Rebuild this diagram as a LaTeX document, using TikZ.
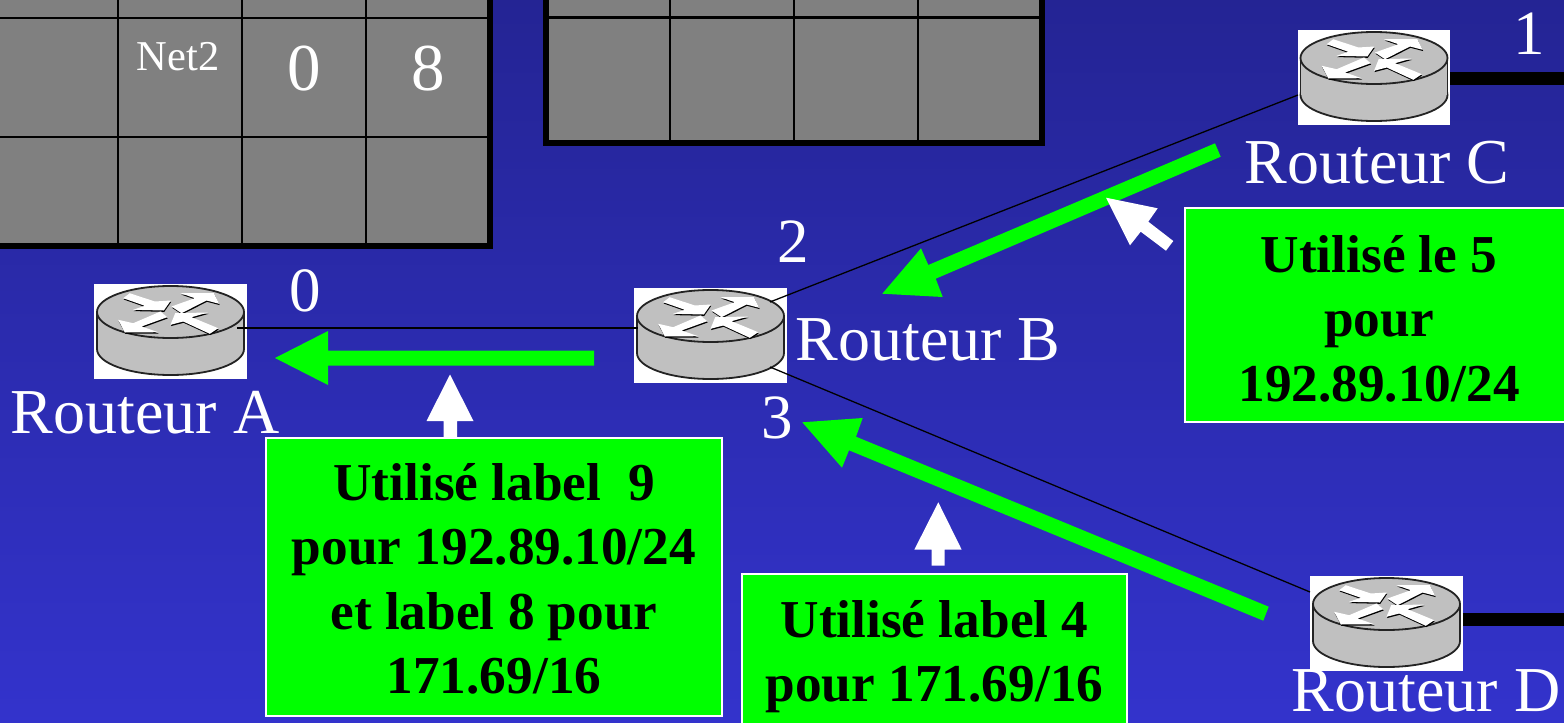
\documentclass[tikz,border=0pt]{standalone}
\usepackage{fontspec}
\setmainfont{Liberation Serif}
\usetikzlibrary{calc}
\definecolor{bgtop}{RGB}{36,36,148}
\definecolor{bgbot}{RGB}{51,51,204}
\definecolor{cellgray}{RGB}{128,128,128}
\definecolor{routergray}{RGB}{192,192,192}
\definecolor{routeredge}{RGB}{35,35,35}
\definecolor{brightgreen}{RGB}{0,255,0}
\tikzset{
  routernode/.style={fill=white,draw=none,inner sep=0pt,minimum width=152.5pt,minimum height=95pt},
  routerarrow/.style={fill=white},
  routershade/.style={fill=black,shift={(0.5,1.3)}},
  tablebox/.style={fill=cellgray,draw=black,line width=5.6pt},
  tableline/.style={draw=black,line width=2.2pt},
  link/.style={draw=black,line width=1.3pt},
  trunk/.style={draw=black,line width=13pt},
  greenarrow/.style={fill=brightgreen},
  whitearrow/.style={fill=white},
  greenbox/.style={fill=brightgreen,draw=white,line width=2pt,inner sep=0pt,align=center,
    font=\fontsize{53.3}{64.5}\selectfont\bfseries,text=black},
  routerlabel/.style={text=white,anchor=base,inner sep=0pt,font=\fontsize{64}{70}\selectfont},
  portlabel/.style={text=white,anchor=base,inner sep=0pt,font=\fontsize{63}{70}\selectfont},
  celllarge/.style={text=white,anchor=base,inner sep=0pt,font=\fontsize{67}{70}\selectfont},
  cellsmall/.style={text=white,anchor=base,inner sep=0pt,font=\fontsize{42.5}{45}\selectfont},
  routericon/.pic={
    \path[fill=routergray,draw=routeredge,line width=1.8pt] (0,17.5) ellipse [x radius=73.5pt,y radius=26pt];
    \fill[routergray] (-73.5,-19.5) rectangle (73.5,17.5);
    \draw[routeredge,line width=1.8pt] (-73.5,-19.5) -- (-73.5,17.5) (73.5,-19.5) -- (73.5,17.5);
    \path[fill=routergray,draw=routeredge,line width=1.8pt] (0,-19.5) ellipse [x radius=73.5pt,y radius=26pt];
    \foreach \layer in {routershade,routerarrow}{
      \fill[\layer] (-40.7,-38.3) -- (-15.7,-30) -- (0.3,-31) -- (-6.7,-21) -- (-37.3,-21.7) -- (-25.7,-25.7) -- (-47.3,-33.3) -- cycle;
      \fill[\layer] (1,-25) -- (24.3,-33.3) -- (10,-38.3) -- (43.3,-38.3) -- (48.7,-27.7) -- (36,-31) -- (11,-18.3) -- cycle;
      \fill[\layer] (-10,-20) -- (-3.3,-14.3) -- (-29,-5) -- (-12.3,0.7) -- (-45.7,1) -- (-52.3,-11.7) -- (-37.3,-8.3) -- cycle;
      \fill[\layer] (0,-6.7) -- (4.7,-18.3) -- (37.7,-19) -- (21,-14.3) -- (47.7,-3.3) -- (39.3,2.3) -- (12.7,-10) -- cycle;
    }
  }
}
\begin{document}
\begin{tikzpicture}[x=1pt,y=-1pt]
\useasboundingbox (0,0) rectangle (1564,723);
\clip (0,0) rectangle (1564,723);
\shade[top color=bgtop,bottom color=bgbot] (0,0) rectangle (1564,723);

% tables
\path[tablebox] (-10,-10) rectangle (490,246);
\draw[tableline] (117.7,-10) -- (117.7,243.5) (242,-10) -- (242,243.5) (366,-10) -- (366,243.5)
  (-10,18.3) -- (487.5,18.3) (-10,136.7) -- (487.5,136.7);
\path[tablebox] (545.7,-10) rectangle (1042,143);
\draw[tableline] (669.6,-10) -- (669.6,140.5) (794,-10) -- (794,140.5) (918,-10) -- (918,140.5)
  (548,17.5) -- (1039.5,17.5);
\node[cellsmall] (net) at (178,70) {Net2};
\node[celllarge] (cellzero) at (304,90) {0};
\node[celllarge] (celleight) at (428,90) {8};

% routers
\node[routernode] (ra) at (170.5,331.5) {};
\node[routernode] (rb) at (710.5,335.5) {};
\node[routernode] (rc) at (1374,77.5) {};
\node[routernode] (rd) at (1386.5,623.5) {};
\pic at (ra.center) {routericon};
\pic at (rb.center) {routericon};
\pic at (rc.center) {routericon};
\pic at (rd.center) {routericon};

% connectors
\coordinate (ae) at ($(ra.center)+(66.5,-3.5)$);
\coordinate (bw) at ($(rb.center)+(-72.5,-7.5)$);
\coordinate (bne) at ($(rb.center)+(59.5,-33.5)$);
\coordinate (bse) at ($(rb.center)+(59.5,31.5)$);
\coordinate (cw) at ($(rc.center)+(-76,17.5)$);
\coordinate (dw) at ($(rd.center)+(-76.5,-31.5)$);
\coordinate (ce) at (1564,78);
\coordinate (de) at (1564,619);
\draw[link] (ae) -- (bw);
\draw[link] (bne) -- (cw);
\draw[link] (bse) -- (dw);
\draw[trunk] (rc.east |- ce) -- (ce);
\draw[trunk] (rd.east |- de) -- (de);

% green arrows
\fill[greenarrow] (275,358) -- (328,331) -- (328,350.5) -- (594,350.5) -- (594,365.5) -- (328,365.5) -- (328,385) -- cycle;
\fill[greenarrow] (882.3,293.7) -- (921,248.3) -- (928.3,265) -- (1215,143.3) -- (1220.7,156.7) -- (935.7,278.7) -- (942.7,297) -- cycle;
\fill[greenarrow] (802.3,422.3) -- (862.7,418) -- (856,436.7) -- (1268.7,606.7) -- (1263.3,620.7) -- (849,450.3) -- (842,467.7) -- cycle;

% white arrows
\fill[whitearrow] (450,374.5) -- (473.5,421) -- (457,421) -- (457,440) -- (443.5,440) -- (443.5,421) -- (426.5,421) -- cycle;
\fill[whitearrow] (938.3,502.3) -- (961.7,549.7) -- (944.7,549.7) -- (944.7,565.7) -- (931.7,565.7) -- (931.7,549.7) -- (914.3,549.7) -- cycle;
\fill[whitearrow] (1106,197.7) -- (1157.7,208.3) -- (1148.3,221.7) -- (1173.3,241) -- (1166,250.7) -- (1140.7,231.7) -- (1130,245.3) -- cycle;

% labelled boxes
\node[greenbox,minimum width=456pt,minimum height=278pt] (boxa) at (494,577) {\rule{0pt}{41pt}Utilisé label\ \ 9\\pour 192.89.10/24\\et label 8 pour\\171.69/16};
\node[greenbox,minimum width=385pt,minimum height=165pt] (boxb) at (934.5,656.5) {Utilisé label 4\\pour 171.69/16};
\node[greenbox,minimum width=388pt,minimum height=214pt] (boxc) at (1379,315) {\rule{0pt}{44pt}Utilisé le 5\\pour\\192.89.10/24};

% router names and ports
\node[routerlabel] (namea) at (145,433.5) {Routeur A};
\node[routerlabel] (nameb) at (928,360) {Routeur B};
\node[routerlabel] (namec) at (1377,183) {Routeur C};
\node[routerlabel] (named) at (1426,711) {Routeur D};
\node[portlabel] (pzero) at (305.5,311) {0};
\node[portlabel] (ptwo) at (793.5,262) {2};
\node[portlabel] (pthree) at (777.5,438) {3};
\node[portlabel] (pone) at (1529.5,54) {1};
\end{tikzpicture}
\end{document}
